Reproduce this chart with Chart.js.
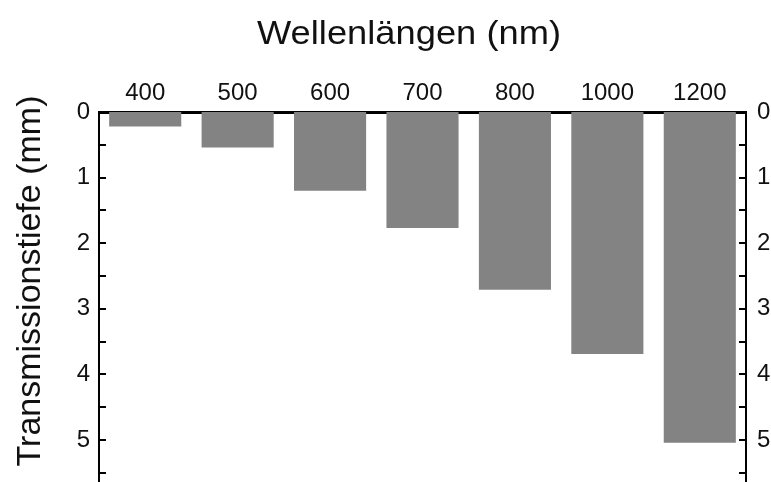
<!DOCTYPE html>
<html>
<head>
<meta charset="utf-8">
<script src="https://cdn.jsdelivr.net/npm/chart.js@4/dist/chart.umd.min.js"></script>
<style>
html,body{margin:0;padding:0;background:#fff;}
#wrap{width:771px;height:482px;}
</style>
</head>
<body>
<div id="wrap"><canvas id="c" width="771" height="482"></canvas></div>
<script>
const categories = ['400', '500', '600', '700', '800', '1000', '1200'];
const depthValues = [0.22, 0.54, 1.20, 1.77, 2.71, 3.69, 5.04];
const xTitle = 'Wellenlängen (nm)';
const yTitle = 'Transmissionstiefe (mm)';
const yMin = 0, yMax = 5.64, yStep = 0.5;

const FONT = '"Liberation Sans", Arial, Helvetica, sans-serif';

const inwardTicks = {
  id: 'inwardTicks',
  afterDraw(chart) {
    const ctx = chart.ctx;
    const area = chart.chartArea;
    ctx.save();
    ctx.strokeStyle = '#000';
    ctx.lineWidth = 2;
    const ys = chart.scales.y;
    ys.ticks.forEach(t => {
      if (Math.abs(t.value * 2 - Math.round(t.value * 2)) > 1e-6) return;
      const py = Math.round(ys.getPixelForValue(t.value));
      ctx.beginPath();
      ctx.moveTo(area.left, py); ctx.lineTo(area.left + 7, py);
      ctx.moveTo(area.right, py); ctx.lineTo(area.right - 7, py);
      ctx.stroke();
    });
    // titles
    ctx.fillStyle = '#111';
    ctx.textAlign = 'center';
    ctx.textBaseline = 'alphabetic';
    ctx.save();
    ctx.font = '33px ' + FONT;
    ctx.translate(409, 44);
    ctx.scale(1.1, 1);
    ctx.fillText(xTitle, 0, 0);
    ctx.restore();
    ctx.font = '34px ' + FONT;
    ctx.translate(40, 281);
    ctx.rotate(-Math.PI / 2);
    ctx.fillText(yTitle, 0, 0);
    ctx.restore();
  }
};

new Chart(document.getElementById('c'), {
  type: 'bar',
  data: {
    labels: categories,
    datasets: [{
      data: depthValues,
      backgroundColor: '#838383',
      borderWidth: 0,
      barPercentage: 0.78,
      categoryPercentage: 1.0,
      yAxisID: 'y'
    }]
  },
  options: {
    responsive: false,
    animation: false,
    layout: { padding: 0 },
    plugins: { legend: { display: false }, tooltip: { enabled: false }, title: { display: false } },
    scales: {
      x: {
        position: 'top',
        grid: { display: false, drawTicks: false },
        border: { display: true, color: '#000', width: 3 },
        ticks: { color: '#111', font: { size: 24, family: FONT }, padding: 4, maxRotation: 0 },
        afterFit(s) { s.height = 112; }
      },
      y: {
        position: 'left',
        reverse: true,
        min: yMin, max: yMax,
        grid: { display: false, drawTicks: false },
        border: { display: true, color: '#000', width: 2 },
        ticks: {
          stepSize: yStep, includeBounds: false, autoSkip: false,
          color: '#111', font: { size: 24, family: FONT }, padding: 9,
          callback: v => (Number.isInteger(v) ? String(v) : '')
        },
        afterFit(s) { s.width = 99; s.paddingTop = 0; s.paddingBottom = 0; }
      },
      y2: {
        position: 'right',
        reverse: true,
        min: yMin, max: yMax,
        grid: { display: false, drawTicks: false },
        border: { display: true, color: '#000', width: 2 },
        ticks: {
          stepSize: yStep, includeBounds: false, autoSkip: false,
          color: '#111', font: { size: 24, family: FONT }, padding: 11,
          callback: v => (Number.isInteger(v) ? String(v) : '')
        },
        afterFit(s) { s.width = 25; s.paddingTop = 0; s.paddingBottom = 0; }
      }
    }
  },
  plugins: [inwardTicks]
});
</script>
</body>
</html>
